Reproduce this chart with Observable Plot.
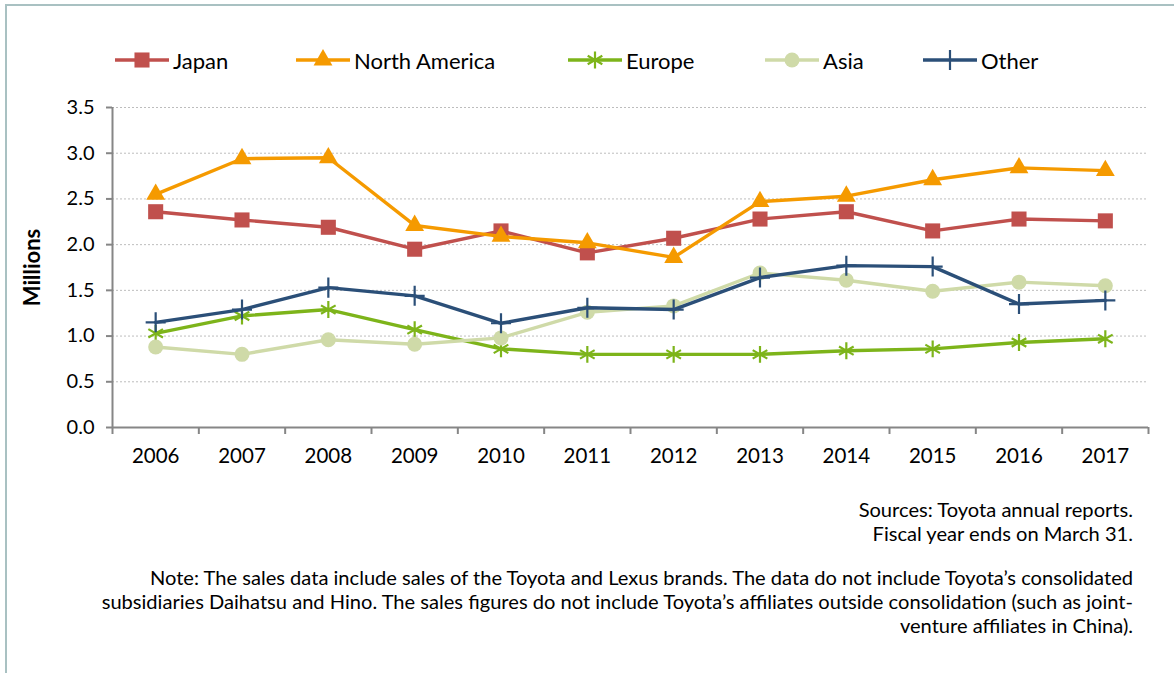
<!DOCTYPE html>
<html>
<head>
<meta charset="utf-8">
<script src="https://cdn.jsdelivr.net/npm/d3@7"></script>
<script src="https://cdn.jsdelivr.net/npm/@observablehq/plot@0.6"></script>
<style>
  html, body { margin: 0; padding: 0; background: #fff; width: 1174px; height: 673px; overflow: hidden; font-family: Lato, "Open Sans", sans-serif; color: #000; }
  #frame { position: absolute; left: 5px; top: 4px; width: 1300px; height: 800px; border-left: 2px solid #a9c1c2; border-top: 2px solid #a9c1c2; }
  #legend { position: absolute; left: 0; top: 46px; width: 1174px; height: 28px; font-size: 22px; }
  .item { position: absolute; top: 0; display: flex; align-items: center; height: 28px; }
  .item svg { margin-right: 4px; }
  #chart { position: absolute; left: 0; top: 90px; }
  .note { position: absolute; right: 41px; font-size: 20.1px; text-align: right; white-space: nowrap; line-height: 24px; }
</style>
</head>
<body>
<div id="frame"></div>
<div id="legend"></div>
<div id="chart"></div>
<div class="note" style="top:497px">Sources: Toyota annual reports.<br>Fiscal year ends on March 31.</div>
<div class="note" style="top:565px">Note: The sales data include sales of the Toyota and Lexus brands. The data do not include Toyota’s consolidated<br>subsidiaries Daihatsu and Hino. The sales figures do not include Toyota’s affiliates outside consolidation (such as joint-<br>venture affiliates in China).</div>
<script>
const years = [2006, 2007, 2008, 2009, 2010, 2011, 2012, 2013, 2014, 2015, 2016, 2017];
const japan = [2.36, 2.27, 2.19, 1.95, 2.15, 1.91, 2.07, 2.28, 2.36, 2.15, 2.28, 2.26];
const northAmerica = [2.55, 2.94, 2.95, 2.21, 2.09, 2.02, 1.86, 2.47, 2.53, 2.71, 2.84, 2.81];
const europe = [1.03, 1.22, 1.29, 1.07, 0.86, 0.80, 0.80, 0.80, 0.84, 0.86, 0.93, 0.97];
const asia = [0.88, 0.80, 0.96, 0.91, 0.98, 1.26, 1.33, 1.69, 1.61, 1.49, 1.59, 1.55];
const other = [1.15, 1.29, 1.53, 1.44, 1.14, 1.31, 1.29, 1.64, 1.77, 1.76, 1.35, 1.39];
const seriesNames = ["Japan", "North America", "Europe", "Asia", "Other"];
const seriesValues = [japan, northAmerica, europe, asia, other];
const seriesColors = ["#c0504d", "#f59a00", "#7db41a", "#cfdaa8", "#2b4f78"];
const seriesSymbols = ["square", "triangle", "asterisk", "circle", "plus"];
const yTicks = [0, 0.5, 1.0, 1.5, 2.0, 2.5, 3.0, 3.5];
const yLabel = "Millions";

const data = [];
seriesNames.forEach((name, i) => {
  years.forEach((yr, j) => data.push({series: name, year: yr, value: seriesValues[i][j]}));
});

const boundaries = years.map(y => y - 0.5).concat([years[years.length - 1] + 0.5]);

const symbolOpts = {
  square: {r: 8.5, fill: true},
  triangle: {r: 7, fill: true},
  asterisk: {r: 8, fill: false},
  circle: {r: 7.5, fill: true},
  plus: {r: 6.5, fill: false}
};

const marks = [
  Plot.gridY(yTicks.filter(d => d > 0), {stroke: "#bdbdbd", strokeOpacity: 1, strokeDasharray: "2,2", strokeWidth: 1}),
  Plot.axisY({ticks: yTicks, tickFormat: d => d.toFixed(1), tickSize: 6, tickPadding: 12, stroke: "#868686", strokeWidth: 2, fontSize: 20, label: null}),
  Plot.axisX({ticks: boundaries, tickSize: 7, tickFormat: () => "", stroke: "#868686", strokeWidth: 2, label: null}),
  Plot.axisX({ticks: years, tickSize: 0, tickPadding: 21, tickFormat: d => String(d), fontSize: 20.5, label: null}),
  Plot.ruleX([boundaries[0]], {stroke: "#868686", strokeWidth: 2}),
  Plot.ruleY([0], {stroke: "#868686", strokeWidth: 2}),
  Plot.text([yLabel], {frameAnchor: "left", dx: -80, rotate: -90, textAnchor: "middle", fontWeight: "bold", fontSize: 22})
];

seriesNames.forEach((name, i) => {
  const d = data.filter(r => r.series === name);
  const col = seriesColors[i];
  const sym = seriesSymbols[i];
  const so = symbolOpts[sym];
  marks.push(Plot.line(d, {x: "year", y: "value", stroke: col, strokeWidth: 3.4}));
  marks.push(Plot.dot(d, {
    x: "year", y: "value", symbol: () => sym, r: so.r,
    fill: so.fill ? col : "none", stroke: col, strokeWidth: so.fill ? 0 : 2.2
  }));
});

const chart = Plot.plot({
  width: 1174,
  height: 390,
  marginLeft: 112,
  marginRight: 26,
  marginTop: 17,
  marginBottom: 53,
  style: {fontFamily: "Lato, 'Open Sans', sans-serif", fontSize: "20px", color: "#000", background: "transparent", overflow: "visible"},
  x: {type: "linear", domain: [boundaries[0], boundaries[boundaries.length - 1]]},
  y: {domain: [0, 3.5]},
  symbol: {type: "identity"},
  marks
});
document.getElementById("chart").appendChild(chart);

// Legend
const legendX = [115, 296, 568, 765, 923];
const legend = document.getElementById("legend");
seriesNames.forEach((name, i) => {
  const item = document.createElement("div");
  item.className = "item";
  item.style.left = legendX[i] + "px";
  const svg = d3.create("svg").attr("width", 54).attr("height", 28);
  svg.append("line").attr("x1", 0).attr("x2", 54).attr("y1", 14).attr("y2", 14)
    .attr("stroke", seriesColors[i]).attr("stroke-width", 3.4);
  const sym = seriesSymbols[i];
  const so = symbolOpts[sym];
  const symType = {square: d3.symbolSquare, triangle: d3.symbolTriangle, asterisk: d3.symbolAsterisk, circle: d3.symbolCircle, plus: d3.symbolPlus}[sym];
  svg.append("path").attr("transform", "translate(27,14)")
    .attr("d", d3.symbol(symType, Math.PI * so.r * so.r)())
    .attr("fill", so.fill ? seriesColors[i] : "none")
    .attr("stroke", so.fill ? "none" : seriesColors[i])
    .attr("stroke-width", 2.2);
  item.appendChild(svg.node());
  const t = document.createElement("span");
  t.textContent = name;
  item.appendChild(t);
  legend.appendChild(item);
});
</script>
</body>
</html>
